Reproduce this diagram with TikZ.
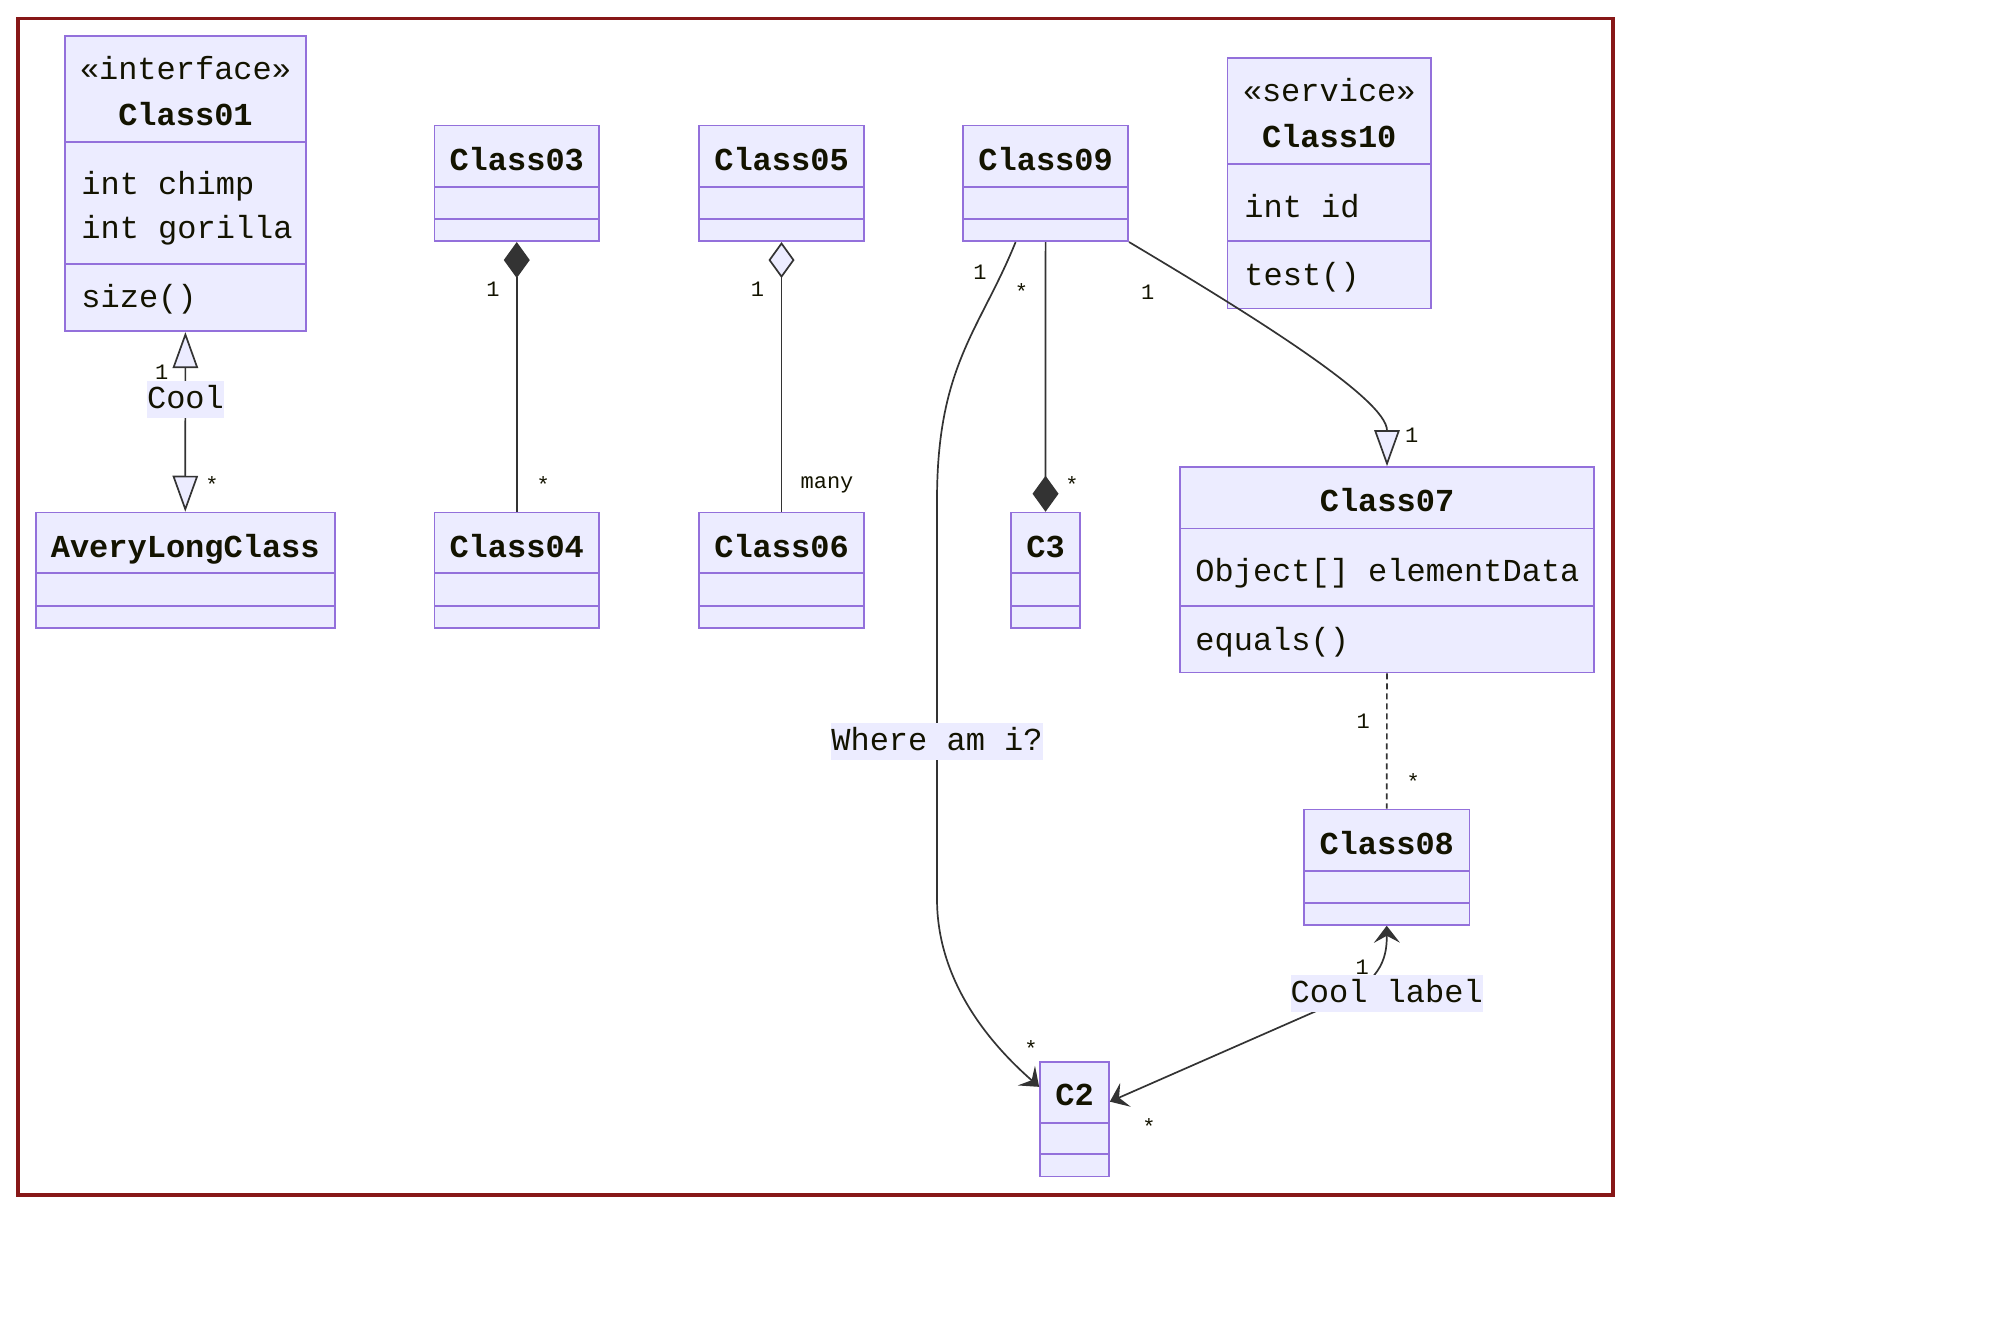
\documentclass[tikz,border=0pt]{standalone}
\usepackage{fontspec}
\newfontfamily\umlmono{Liberation Mono}
\usetikzlibrary{arrows.meta,fit,calc}

\definecolor{boxfill}{HTML}{ECECFF}
\definecolor{boxline}{HTML}{9370DB}
\definecolor{edgeline}{HTML}{333333}
\definecolor{inktext}{HTML}{131300}
\definecolor{framered}{HTML}{871717}

\tikzset{
  classbox/.style={rectangle, draw=boxline, fill=boxfill, line width=0.85pt, inner sep=0pt},
  classrule/.style={draw=boxline, line width=0.85pt},
  ctitle/.style={font=\umlmono\bfseries\fontsize{16pt}{19pt}\selectfont, text=inktext, anchor=base, inner sep=0pt},
  cstereo/.style={font=\umlmono\fontsize{16pt}{19pt}\selectfont, text=inktext, anchor=base, inner sep=0pt},
  cmember/.style={font=\umlmono\fontsize{16pt}{19pt}\selectfont, text=inktext, anchor=base west, inner sep=0pt},
  mult/.style={font=\umlmono\fontsize{11pt}{13pt}\selectfont, text=inktext, anchor=base, inner sep=0pt},
  elabel/.style={font=\umlmono\fontsize{16pt}{19pt}\selectfont, text=inktext, fill=boxfill,
    inner xsep=0pt, inner ysep=0pt, minimum height=18.5pt, text height=11.2pt, text depth=2pt},
  conn/.style={draw=edgeline, line width=0.85pt},
  umltri/.tip={Triangle[length=18pt, width=12.7pt, fill=boxfill]},
  umlcomp/.tip={Diamond[length=18pt, width=13pt]},
  umlagg/.tip={Diamond[length=18pt, width=13pt, fill=boxfill]},
  umldep/.tip={Stealth[length=8.5pt, width=13pt, inset=3.5pt]},
}

% class box: name, corners, and the two compartment dividers
\newcommand\umlclass[7]{%
  \node[classbox, fit={(#2,#3) (#4,#5)}] (#1) {};
  \draw[classrule] (#2,#6) -- (#4,#6);
  \draw[classrule] (#2,#7) -- (#4,#7);
}

\begin{document}
\begin{tikzpicture}[x=0.5pt, y=-0.5pt]
\useasboundingbox (0,0) rectangle (2000,1320);

% outer frame
\draw[framered, line width=1.85pt] (18,18.5) rectangle (1613,1195);

% classes
\umlclass{Class01}{64.7}{35.8}{306.3}{331.2}{142.3}{264.3}
\umlclass{AveryLongClass}{35.7}{512.6}{334.8}{628}{573.2}{606}
\umlclass{Class03}{434.4}{125.4}{599.1}{241.2}{186.9}{218.9}
\umlclass{Class04}{434.4}{512.6}{599.1}{628}{573.2}{606}
\umlclass{Class05}{699}{125.4}{864}{241.2}{186.9}{218.9}
\umlclass{Class06}{699}{512.6}{864}{628}{573.2}{606}
\umlclass{Class09}{963}{125.4}{1128.2}{241.2}{186.9}{218.9}
\umlclass{Class10}{1227.6}{58}{1430.8}{308.5}{164}{241}
\umlclass{C3}{1011}{512.6}{1080}{628}{573.2}{606}
\umlclass{Class07}{1180}{467}{1594}{672.6}{528.6}{606}
\umlclass{Class08}{1304}{809.4}{1469.4}{924.9}{871.2}{902.7}
\umlclass{C2}{1040}{1061.7}{1109}{1176.4}{1122.8}{1154.2}

% class texts
\node[cstereo] (c01st) at (185.5,80) {«interface»};
\node[ctitle]  (c01t)  at (185.5,125.4) {Class01};
\node[cmember] (c01a1) at (81,194.4) {int chimp};
\node[cmember] (c01a2) at (81,238.6) {int gorilla};
\node[cmember] (c01m1) at (81,308) {size()};
\node[ctitle]  (alct)  at (185.25,557.6) {AveryLongClass};
\node[ctitle]  (c03t)  at (516.75,170.4) {Class03};
\node[ctitle]  (c04t)  at (516.75,557.6) {Class04};
\node[ctitle]  (c05t)  at (781.5,170.4) {Class05};
\node[ctitle]  (c06t)  at (781.5,557.6) {Class06};
\node[ctitle]  (c09t)  at (1045.6,170.4) {Class09};
\node[ctitle]  (c3t)   at (1045.5,557.6) {C3};
\node[cstereo] (c10st) at (1329.2,102) {«service»};
\node[ctitle]  (c10t)  at (1329.2,148) {Class10};
\node[cmember] (c10a1) at (1244,217.6) {int id};
\node[cmember] (c10m1) at (1244,285.5) {test()};
\node[ctitle]  (c07t)  at (1387,511.4) {Class07};
\node[cmember] (c07a1) at (1195,581) {Object[] elementData};
\node[cmember] (c07m1) at (1195,650) {equals()};
\node[ctitle]  (c08t)  at (1386.7,854.4) {Class08};
\node[ctitle]  (c2t)   at (1074.5,1105.5) {C2};

% relations
\draw[conn, umltri-umltri] (Class01) -- (AveryLongClass);
\draw[conn, umlcomp-] (Class03) -- (Class04);
\draw[conn, umlagg-] (Class05) -- (Class06);
\draw[conn, -umlcomp] (Class09) -- (C3);
\draw[conn, -umltri] (Class09.south east) .. controls (1260,320) and (1387,400) .. (Class07.north);
\draw[conn, -umldep] ([xshift=-15pt]Class09.south) .. controls (980,330) and (937,365) .. (937,500)
  -- (937,899) .. controls (937,980) and (988,1042) .. ([yshift=-13pt]C2.north west);
\draw[conn, dash pattern=on 3pt off 2pt] (Class07) -- (Class08);
\draw[conn, umldep-umldep] ([yshift=-20.4pt]C2.north east) -- (1330,1005)
  .. controls (1380,983) and (1387,960) .. (Class08.south);

% relation labels
\node[elabel] (lblcool)  at (185.5,399.3) {Cool};
\node[elabel] (lblwhere) at (937,741.4) {Where am i?};
\node[elabel] (lblcoolb) at (1386.7,993.6) {Cool label};

% multiplicities
\node[mult] (m01a) at (161.6,380) {1};
\node[mult] (m01b) at (212,492) {*};
\node[mult] (m03a) at (493,296.7) {1};
\node[mult] (m03b) at (543.3,492) {*};
\node[mult] (m05a) at (757.4,296.7) {1};
\node[mult] (m05b) at (827,488) {many};
\node[mult] (m09a) at (980,280) {1};
\node[mult] (m09b) at (1021.5,300) {*};
\node[mult] (m09c) at (1147.8,300) {1};
\node[mult] (m3b)  at (1072,492) {*};
\node[mult] (m07a) at (1411.8,442.7) {1};
\node[mult] (m07b) at (1363.3,728.8) {1};
\node[mult] (m08a) at (1413.3,789) {*};
\node[mult] (m2a)  at (1031,1056) {*};
\node[mult] (m08b) at (1362.2,974.5) {1};
\node[mult] (m2b)  at (1149,1134.5) {*};
\end{tikzpicture}
\end{document}
